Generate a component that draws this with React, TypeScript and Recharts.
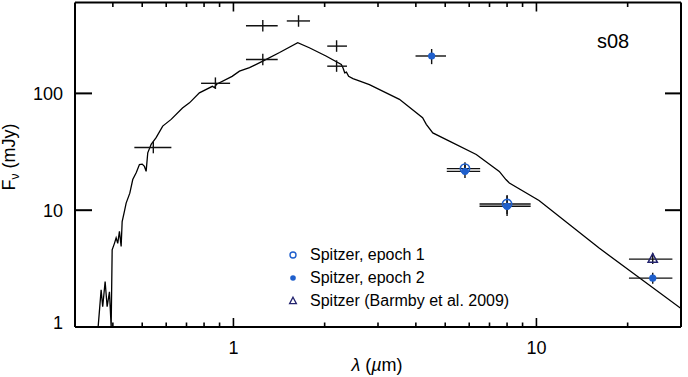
import {
  ComposedChart,
  Customized,
  ErrorBar,
  Legend,
  Line,
  Scatter,
  XAxis,
  YAxis,
} from "recharts";

// model spectrum, wavelength in micron, flux in mJy
const modelWl = [
  0.35, 0.3659, 0.3703, 0.3772, 0.383, 0.3898, 0.3949, 0.3979, 0.4049, 0.4101,
  0.4151, 0.4205, 0.426, 0.4293, 0.4369, 0.4425, 0.455, 0.4653, 0.478, 0.4895,
  0.5, 0.5085, 0.5151, 0.5215, 0.5352, 0.5557, 0.5843, 0.6229, 0.679, 0.716,
  0.772, 0.852, 0.865, 0.88, 0.99, 1.047, 1.13, 1.25, 1.42, 1.63, 1.78, 2.02,
  2.27, 2.3, 2.33, 2.36, 2.4, 2.48, 2.6, 2.81, 3.53, 4.21, 4.33, 4.55, 5.16,
  6.33, 7.54, 7.93, 8.14, 10.2, 16.1, 30.2,
];
const modelFlux = [
  0.5, 2.08, 1.49, 2.45, 1.49, 2.0, 1.0, 4.58, 5.2, 5.8,
  5.2, 6.6, 4.9, 8.0, 9.8, 11.5, 14, 18.3, 21, 24.6,
  24.8, 23.7, 21.5, 31, 36.6, 41.8, 52.5, 59.9, 75, 83,
  101, 115, 112, 120, 140, 155, 166, 189, 224, 272, 246, 209,
  177, 165, 150, 152, 140, 134, 128, 119, 89, 62, 54.3, 45.9, 39,
  30, 21.5, 18.3, 17.1, 12.1, 4.74, 1.42,
];

// optical / near-IR photometry (crosses)
const photWl = [0.544, 0.872, 1.25, 1.25, 1.64, 2.19, 2.19];
const photFlux = [34.4, 122, 379, 195, 417, 254, 171];
const photWlErr = [
  [0.073, 0.08], [0.09, 0.103], [0.15, 0.15], [0.15, 0.15],
  [0.14, 0.15], [0.15, 0.18], [0.15, 0.18],
];
const photFluxErr = [
  [3.7, 4.2], [13, 15], [40, 46], [21, 24], [45, 50], [27, 31], [18, 21],
];

// Spitzer, epoch 1
const ep1Wl = [5.81, 8.0];
const ep1Flux = [22.7, 11.3];
const ep1WlErr = [[0.75, 0.71], [1.51, 1.57]];
const ep1FluxErr = [[2.7, 3.0], [2.0, 2.2]];

// Spitzer, epoch 2
const ep2Wl = [4.51, 5.81, 8.0, 24.2];
const ep2Flux = [209, 21.5, 10.8, 2.62];
const ep2WlErr = [[0.52, 0.52], [0.75, 0.71], [1.51, 1.57], [4.0, 3.9]];
const ep2FluxErr = [[31, 31], [2.6, 3.2], [1.9, 2.4], [0.28, 0.3]];

// Barmby et al. 2009
const barWl = [24.2];
const barFlux = [3.81];
const barWlErr = [[4.0, 3.9]];
const barFluxErr = [[0.34, 0.48]];

const xTicks = [0.4, 0.5, 0.6, 0.7, 0.8, 0.9, 1, 2, 3, 4, 5, 6, 7, 8, 9, 10, 20];
const xMajor = [1, 10];
const yTicks = [1, 10, 100];

const legendLabels = [
  "Spitzer, epoch 1",
  "Spitzer, epoch 2",
  "Spitzer (Barmby et al. 2009)",
];

const BLUE = "#1f5fcc";
const NAVY = "#23236e";
const FONT = "'Liberation Sans', Arial, Helvetica, sans-serif";

const zip = (wl: number[], fl: number[], we?: number[][], fe?: number[][]) =>
  wl.map((w, i) => ({ w, f: fl[i], ew: we ? we[i] : 0, ef: fe ? fe[i] : 0 }));

const model = zip(modelWl, modelFlux);
const phot = zip(photWl, photFlux, photWlErr, photFluxErr);
const ep1 = zip(ep1Wl, ep1Flux, ep1WlErr, ep1FluxErr);
const ep2 = zip(ep2Wl, ep2Flux, ep2WlErr, ep2FluxErr);
const bar = zip(barWl, barFlux, barWlErr, barFluxErr);

function BottomTick(props: any) {
  const { x, y, payload } = props;
  const major = xMajor.includes(payload.value);
  return (
    <g>
      <line x1={x} x2={x} y1={y} y2={y - (major ? 9 : 4.5)} stroke="#000" strokeWidth={1.6} />
      {major && (
        <text x={x} y={y + 27} textAnchor="middle" fontSize={18} fontFamily={FONT} fill="#000">
          {payload.value}
        </text>
      )}
    </g>
  );
}

function TopTick(props: any) {
  const { x, y, payload } = props;
  const major = xMajor.includes(payload.value);
  return <line x1={x} x2={x} y1={y} y2={y + (major ? 9 : 4.5)} stroke="#000" strokeWidth={1.6} />;
}

function LeftTick(props: any) {
  const { x, y, payload } = props;
  return (
    <g>
      <line x1={x} x2={x + 17} y1={y} y2={y} stroke="#000" strokeWidth={2} />
      <text
        x={x - 12}
        y={y + (payload.value === 1 ? 1.5 : 6.5)}
        textAnchor="end"
        fontSize={18}
        fontFamily={FONT}
        fill="#000"
      >
        {payload.value}
      </text>
    </g>
  );
}

function RightTick(props: any) {
  const { x, y } = props;
  return <line x1={x} x2={x - 16} y1={y} y2={y} stroke="#000" strokeWidth={2} />;
}

const noMark = () => <g />;
const filledDot = (p: any) => <circle cx={p.cx} cy={p.cy} r={3.6} fill={BLUE} />;
const openDot = (p: any) => (
  <circle cx={p.cx} cy={p.cy} r={4.6} fill="none" stroke={BLUE} strokeWidth={1.7} />
);
const triangle = (p: any) => (
  <path
    d={`M${p.cx},${p.cy - 5.5} L${p.cx + 4.6},${p.cy + 3} L${p.cx - 4.6},${p.cy + 3} Z`}
    fill="none"
    stroke={NAVY}
    strokeWidth={1.5}
  />
);

function LegendBox() {
  const markers = [
    <circle cx={7} cy={7} r={3} fill="none" stroke={BLUE} strokeWidth={1.4} />,
    <circle cx={7} cy={7} r={2.8} fill={BLUE} />,
    <path d="M7,3.2 L10.4,9.6 L3.6,9.6 Z" fill="none" stroke={NAVY} strokeWidth={1.3} />,
  ];
  return (
    <div style={{ fontFamily: FONT, fontSize: 16, color: "#000" }}>
      {legendLabels.map((label, i) => (
        <div key={label} style={{ display: "flex", alignItems: "center", height: i === 1 ? 24 : 22 }}>
          <svg width={14} height={14} style={{ marginRight: 10 }}>
            {markers[i]}
          </svg>
          <span>{label}</span>
        </div>
      ))}
    </div>
  );
}

function Labels() {
  return (
    <g fontFamily={FONT} fill="#000">
      <text transform="rotate(-90)" x={-157} y={15} textAnchor="middle" fontSize={18}>
        F
        <tspan fontSize={12} dy={4}>
          ν
        </tspan>
        <tspan dy={-4}> (mJy)</tspan>
      </text>
      <text x={377} y={371} textAnchor="middle" fontSize={18}>
        <tspan fontStyle="italic">λ</tspan> (<tspan fontStyle="italic">µ</tspan>m)
      </text>
      <text x={597} y={48} fontSize={20}>
        s08
      </text>
    </g>
  );
}

export default function App() {
  return (
    <div style={{ position: "absolute", left: 0, top: 0, background: "#fff" }}>
      <ComposedChart
        width={688}
        height={377}
        margin={{ top: 0, right: 0, bottom: 0, left: 0 }}
      >
        <XAxis
          xAxisId={0}
          dataKey="w"
          type="number"
          scale="log"
          domain={[0.3, 30]}
          allowDataOverflow
          ticks={xTicks}
          interval={0}
          height={50}
          tickSize={0}
          tickMargin={0}
          tickLine={false}
          tick={<BottomTick />}
          axisLine={{ stroke: "#000", strokeWidth: 2 }}
        />
        <XAxis
          xAxisId="top"
          orientation="top"
          dataKey="w"
          type="number"
          scale="log"
          domain={[0.3, 30]}
          allowDataOverflow
          ticks={xTicks}
          interval={0}
          height={2.5}
          tickSize={0}
          tickMargin={0}
          tickLine={false}
          tick={<TopTick />}
          axisLine={{ stroke: "#000", strokeWidth: 2 }}
        />
        <YAxis
          yAxisId={0}
          dataKey="f"
          type="number"
          scale="log"
          domain={[1, 600]}
          allowDataOverflow
          ticks={yTicks}
          interval={0}
          width={75}
          tickSize={0}
          tickMargin={0}
          tickLine={false}
          tick={<LeftTick />}
          axisLine={{ stroke: "#000", strokeWidth: 2 }}
        />
        <YAxis
          yAxisId="right"
          orientation="right"
          dataKey="f"
          type="number"
          scale="log"
          domain={[1, 600]}
          allowDataOverflow
          ticks={yTicks}
          interval={0}
          width={7}
          tickSize={0}
          tickMargin={0}
          tickLine={false}
          tick={<RightTick />}
          axisLine={{ stroke: "#000", strokeWidth: 2 }}
        />
        <Line
          data={model}
          dataKey="f"
          type="linear"
          stroke="#000"
          strokeWidth={1.3}
          dot={false}
          isAnimationActive={false}
        />
        <Scatter data={phot} dataKey="f" shape={noMark} isAnimationActive={false}>
          <ErrorBar dataKey="ew" direction="x" width={0} stroke="#111" strokeWidth={1.4} />
          <ErrorBar dataKey="ef" direction="y" width={0} stroke="#111" strokeWidth={1.4} />
        </Scatter>
        <Scatter data={ep2} dataKey="f" shape={filledDot} isAnimationActive={false}>
          <ErrorBar dataKey="ew" direction="x" width={0} stroke="#111" strokeWidth={1.4} />
          <ErrorBar dataKey="ef" direction="y" width={0} stroke="#111" strokeWidth={1.4} />
        </Scatter>
        <Scatter data={ep1} dataKey="f" shape={openDot} isAnimationActive={false}>
          <ErrorBar dataKey="ew" direction="x" width={0} stroke="#111" strokeWidth={1.4} />
          <ErrorBar dataKey="ef" direction="y" width={0} stroke="#111" strokeWidth={1.4} />
        </Scatter>
        <Scatter data={bar} dataKey="f" shape={triangle} isAnimationActive={false}>
          <ErrorBar dataKey="ew" direction="x" width={0} stroke="#111" strokeWidth={1.4} />
          <ErrorBar dataKey="ef" direction="y" width={0} stroke="#111" strokeWidth={1.4} />
        </Scatter>
        <Legend
          layout="vertical"
          align="center"
          verticalAlign="middle"
          content={<LegendBox />}
          wrapperStyle={{ left: 286, top: 244, width: 260 }}
        />
        <Customized component={<Labels />} />
      </ComposedChart>
    </div>
  );
}
